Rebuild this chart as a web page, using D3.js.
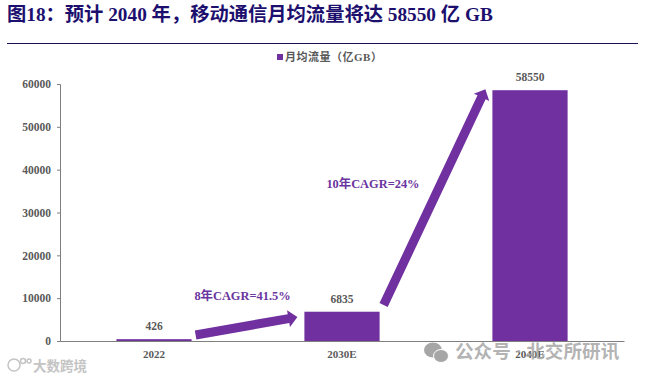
<!DOCTYPE html>
<html>
<head>
<meta charset="utf-8">
<script src="https://cdn.jsdelivr.net/npm/d3@7"></script>
<style>
    html, body { margin: 0; padding: 0; background: #fff; }
    svg { display: block; }
    text { font-family: "Liberation Serif", "Noto Sans CJK SC", serif; font-weight: bold; }
</style>
</head>
<body>
<svg width="645" height="379"></svg>
<script>
const categories = ["2022", "2030E", "2040E"];
const values = [426, 6835, 58550];
const yTicks = [0, 10000, 20000, 30000, 40000, 50000, 60000];

const titleText = "图18：预计 2040 年，移动通信月均流量将达 58550 亿 GB";
const legendText = "月均流量（亿GB）";

// arrows: category the start and end sit next to, plus the height on the value axis
const arrowFrom = [["2022", 1400], ["2030E", 8400]];
const arrowTo = [["2030E", 5600], ["2040E", 58800]];
const cagrLabels = ["8年CAGR=41.5%", "10年CAGR=24%"];
const cagrAnchors = ["2022", "2030E"];
const cagrValues = [9600, 35800];

const purple = "#70309f";
const grey = "#595959";

const svg = d3.select("svg");
const attrArea = { left: 60, right: 624, top: 84, bottom: 341 };

const scaleX = d3.scaleBand()
    .domain(categories)
    .range([attrArea.left, attrArea.right])
    .paddingInner(0.6)
    .paddingOuter(0.3);

const scaleY = d3.scaleLinear()
    .domain([0, 60000])
    .range([attrArea.bottom, attrArea.top]);

// title and rule
svg.append("text")
    .attr("x", 7)
    .attr("y", 21)
    .attr("font-size", 19.3)
    .attr("fill", "#1c0f6e")
    .text(titleText);

svg.append("line")
    .attr("x1", 7)
    .attr("x2", 638)
    .attr("y1", 43.5)
    .attr("y2", 43.5)
    .attr("stroke", "#1c0f55")
    .attr("stroke-width", 1);

// legend
svg.append("rect")
    .attr("x", 277)
    .attr("y", 54)
    .attr("width", 6)
    .attr("height", 6)
    .attr("fill", purple);

svg.append("text")
    .attr("x", 285)
    .attr("y", 61)
    .attr("font-size", 11)
    .attr("letter-spacing", 0.5)
    .attr("fill", grey)
    .text(legendText);

// axes
const axisY = d3.axisLeft(scaleY).tickValues(yTicks).tickSize(3).tickPadding(6).tickFormat(d3.format("d"));
const gY = svg.append("g")
    .attr("transform", `translate(${attrArea.left}, 0)`)
    .call(axisY);
gY.select(".domain").attr("stroke", "#7f7f7f");
gY.selectAll(".tick line").attr("stroke", "#7f7f7f");
gY.selectAll("text").attr("font-size", 11.5).attr("fill", grey).attr("font-family", "Liberation Serif");

// bars
svg.selectAll(".bar")
    .data(categories)
    .enter()
    .append("rect")
    .attr("class", "bar")
    .attr("x", d => scaleX(d))
    .attr("width", scaleX.bandwidth())
    .attr("y", (d, i) => scaleY(values[i]))
    .attr("height", (d, i) => attrArea.bottom - scaleY(values[i]))
    .attr("fill", purple);

const axisX = d3.axisBottom(scaleX).tickSize(0).tickPadding(9);
const gX = svg.append("g")
    .attr("transform", `translate(0, ${attrArea.bottom})`)
    .call(axisX);
gX.select(".domain").attr("stroke", "#7f7f7f").attr("stroke-width", 1.2);
gX.selectAll("text").attr("font-size", 11).attr("fill", grey).attr("font-family", "Liberation Serif");

// value labels
svg.selectAll(".value")
    .data(categories)
    .enter()
    .append("text")
    .attr("class", "value")
    .attr("x", d => scaleX(d) + scaleX.bandwidth() / 2)
    .attr("y", (d, i) => scaleY(values[i]) - 9)
    .attr("text-anchor", "middle")
    .attr("font-size", 11.5)
    .attr("fill", grey)
    .text((d, i) => values[i]);

// block arrow from start to end
function arrowPath(x1, y1, x2, y2, shaft, head, headLen) {
    const len = Math.hypot(x2 - x1, y2 - y1);
    const ux = (x2 - x1) / len, uy = (y2 - y1) / len;
    const nx = -uy, ny = ux;
    const bx = x2 - ux * headLen, by = y2 - uy * headLen;
    const pts = [
        [x1 + nx * shaft, y1 + ny * shaft],
        [bx + nx * shaft, by + ny * shaft],
        [bx + nx * head, by + ny * head],
        [x2, y2],
        [bx - nx * head, by - ny * head],
        [bx - nx * shaft, by - ny * shaft],
        [x1 - nx * shaft, y1 - ny * shaft]
    ];
    return d3.line()(pts) + "Z";
}

arrowFrom.forEach((start, i) => {
    const end = arrowTo[i];
    const x1 = scaleX(start[0]) + scaleX.bandwidth() + 4;
    const x2 = scaleX(end[0]) - 7;
    svg.append("path")
        .attr("d", arrowPath(x1, scaleY(start[1]), x2, scaleY(end[1]), 4.5, 8.5, 9))
        .attr("fill", purple);
});

// CAGR labels
cagrLabels.forEach((label, i) => {
    svg.append("text")
        .attr("x", scaleX(cagrAnchors[i]) + 22 + (i === 0 ? 56 : 0))
        .attr("y", scaleY(cagrValues[i]))
        .attr("font-size", 12.4)
        .attr("fill", "#6a35a0")
        .text(label);
});

// watermarks
const wechat = svg.append("g").attr("fill", "#a6a6a6");
wechat.append("ellipse").attr("cx", 433).attr("cy", 350).attr("rx", 9).attr("ry", 7.5);
wechat.append("ellipse").attr("cx", 441).attr("cy", 356).attr("rx", 7.5).attr("ry", 6.5)
    .attr("stroke", "#fff").attr("stroke-width", 1);

svg.append("text")
    .attr("x", 455)
    .attr("y", 358)
    .attr("font-size", 18.6)
    .attr("font-family", "Noto Sans CJK SC")
    .attr("font-weight", "normal")
    .attr("fill", "#a6a6a6")
    .attr("fill-opacity", 0.85)
    .text("公众号 · 北交所研讯");

const logo = svg.append("g").attr("fill", "none").attr("stroke", "#c4c4c4").attr("stroke-width", 1.5);
logo.append("circle").attr("cx", 14).attr("cy", 365).attr("r", 6);
logo.append("circle").attr("cx", 23).attr("cy", 361).attr("r", 2.5);
logo.append("circle").attr("cx", 29).attr("cy", 361).attr("r", 2);

svg.append("text")
    .attr("x", 33)
    .attr("y", 371)
    .attr("font-size", 13.5)
    .attr("font-family", "Noto Sans CJK SC")
    .attr("font-weight", "normal")
    .attr("fill", "#c4c4c4")
    .text("大数跨境");
</script>
</body>
</html>
